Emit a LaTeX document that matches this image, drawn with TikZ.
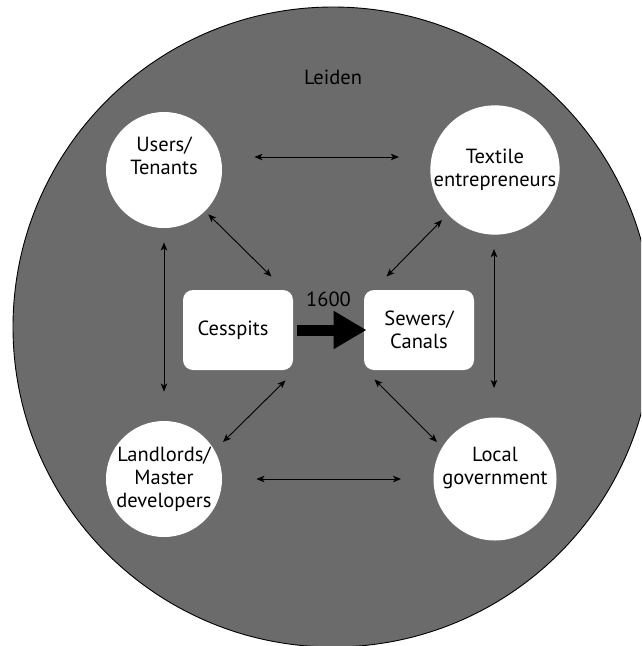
\documentclass[tikz,border=0pt]{standalone}
\usepackage{fontspec}
\setmainfont{PT Sans}
\usepackage{tikz}
\usetikzlibrary{arrows}
\usetikzlibrary{arrows.meta}

\definecolor{citygray}{HTML}{6B6B6B}

\begin{document}
\begin{tikzpicture}[x=1pt,y=-1pt,<->,>={Stealth[length=8pt,width=6.5pt,inset=2pt]},line width=0.9pt,
    font=\fontsize{20.5}{23}\selectfont,
    actor/.style={circle,fill=white,minimum size=116pt,inner sep=0pt,align=center},
    system/.style={rectangle,rounded corners=10pt,fill=white,minimum width=110pt,minimum height=80pt,align=center}]
	\useasboundingbox (0,0) rectangle (641,646);
	\clip (0,0) rectangle (641,646);
	\node[circle,draw=black,fill=citygray,minimum size=640pt,inner sep=0pt] (city) at (333,327) {};
	\node (cityname) at (333,77) {Leiden};
	
	\node[actor] (users) at (164,170) {Users/\\Tenants\\[6pt]};
	\node[actor] (textile) at (495,170) {Textile\\entrepreneurs};
	\node[actor] (landlords) at (164,479) {Landlords/\\Master\\developers};
	\node[actor] (local) at (495,479) {Local\\government\\[4pt]};
	\node[system] (cess) at (238,330) {Cesspits\hspace*{10pt}};
	\node[system] (sewers) at (419,330) {Sewers/\\Canals};
	
	\draw[-{Triangle[length=33pt,width=36pt]},line width=11pt,shorten <=4pt,shorten >=-3pt] (cess.east) -- node[above=14pt] {1600} (sewers.west);
	
	\draw[shorten <=32pt,shorten >=31pt] ([yshift=13pt]users.east) -- ([yshift=13pt]textile.west);
	\draw[shorten <=34pt,shorten >=32pt] (landlords.east) -- (local.west);
	\draw[shorten <=14pt,shorten >=29pt] (users.south) -- (landlords.north);
	\draw[shorten <=14pt,shorten >=29pt] ([xshift=-1pt]textile.south) -- ([xshift=-1pt]local.north);
	
	\draw ([shift={(3pt,-3pt)}]users.-45) -- ([shift={(-22pt,13pt)}]cess.north east);
	\draw ([shift={(-7pt,-4pt)}]textile.-135) -- ([shift={(23pt,13pt)}]sewers.north west);
	\draw ([shift={(-8pt,-10pt)}]cess.south east) -- ([shift={(59pt,37pt)}]landlords.center);
	\draw ([shift={(11pt,-9pt)}]sewers.south west) -- ([shift={(-58pt,37pt)}]local.center);
\end{tikzpicture}
\end{document}
